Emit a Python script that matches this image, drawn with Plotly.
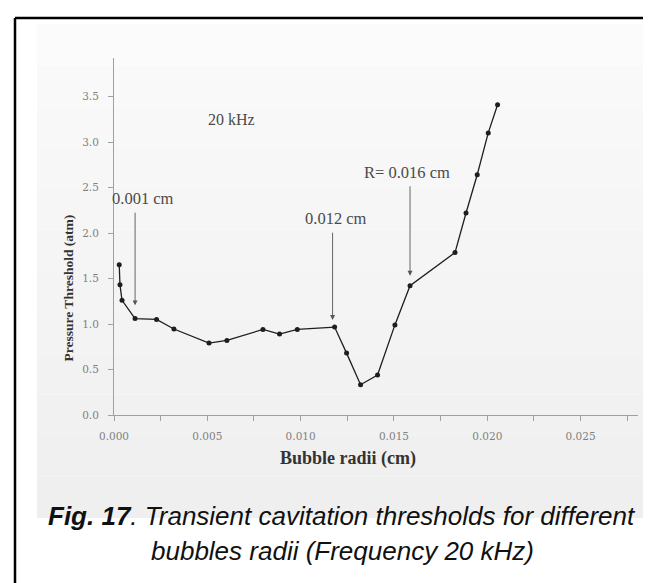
import plotly.graph_objects as go

# ---- data ----
radius_cm = [0.00028, 0.00032, 0.00043, 0.00113, 0.00228, 0.00321, 0.00509, 0.00605,
             0.00798, 0.00887, 0.00982, 0.01182, 0.01246, 0.01321, 0.01412, 0.01505,
             0.01586, 0.01827, 0.01886, 0.01946, 0.02005, 0.02055]
threshold_atm = [1.65, 1.43, 1.26, 1.06, 1.05, 0.945, 0.79, 0.82,
                 0.94, 0.89, 0.94, 0.966, 0.68, 0.333, 0.44, 0.99,
                 1.42, 1.785, 2.22, 2.64, 3.10, 3.41]

# arrow annotations: label, arrow x, tail y, tip y, label x-shift (px)
arrow_labels = ["0.001 cm", "0.012 cm", "R= 0.016 cm"]
arrow_x = [0.00113, 0.01171, 0.01586]
arrow_tail_y = [2.24, 2.02, 2.53]
arrow_tip_y = [1.205, 1.044, 1.53]
label_shift_px = [8, 3, -3]

x_title = "Bubble radii (cm)"
y_title = "Pressure Threshold (atm)"
freq_label = "20 kHz"
caption_line1 = "<b><i>Fig. 17</i></b><i>. Transient cavitation thresholds for different</i>"
caption_line2 = "<i>bubbles radii (Frequency 20 kHz)</i>"

# ---- geometry (pixels) ----
W, H = 651, 583
L, R, T, B = 106, 21, 50, 176
PW, PH = W - L - R, H - T - B


def px(x):
    return (x - L) / PW


def py(y):
    return (H - B - y) / PH


SERIF = "Liberation Serif, Times New Roman, serif"
WSERIF = "DejaVu Serif, serif"
SANS = "Liberation Sans, Arial, sans-serif"

fig = go.Figure()
fig.add_trace(go.Scatter(
    x=radius_cm, y=threshold_atm, mode="lines+markers",
    line=dict(color="#1e1e1e", width=1.3),
    marker=dict(color="#1e1e1e", size=5, symbol="circle"),
    showlegend=False, hoverinfo="skip"))

shapes = []
# scanned-page background, light grey gradient bands
n_bands = 12
top_y, bot_y = 16, 510
for i in range(n_bands):
    y0 = top_y + (bot_y - top_y) * i / n_bands
    y1 = top_y + (bot_y - top_y) * (i + 1) / n_bands
    g = int(251 - 12 * i / (n_bands - 1))
    shapes.append(dict(type="rect", xref="paper", yref="paper",
                       x0=px(29), x1=px(636), y0=py(y1), y1=py(y0),
                       line=dict(width=0), fillcolor=f"rgb({g},{g},{g})", layer="below"))
# outer frame (left and top edges visible)
shapes.append(dict(type="line", xref="paper", yref="paper",
                   x0=px(7), x1=px(7), y0=py(10), y1=py(600),
                   line=dict(color="black", width=2.5)))
shapes.append(dict(type="line", xref="paper", yref="paper",
                   x0=px(7), x1=px(660), y0=py(10), y1=py(10),
                   line=dict(color="black", width=2.5)))

annotations = []
for lab, xa, yt, yh, sh in zip(arrow_labels, arrow_x, arrow_tail_y, arrow_tip_y, label_shift_px):
    annotations.append(dict(x=xa, y=yh, ax=xa, ay=yt, xref="x", yref="y",
                            axref="x", ayref="y", text="", showarrow=True,
                            arrowhead=2, arrowsize=1.1, arrowwidth=0.9,
                            arrowcolor="#555555"))
    annotations.append(dict(x=xa, y=yt, xref="x", yref="y", text=lab,
                            showarrow=False, yanchor="bottom", yshift=1, xshift=sh,
                            font=dict(family=SERIF, size=16.5, color="#4a4a4a")))

annotations.append(dict(x=px(198), y=py(101), xref="paper", yref="paper",
                        text=freq_label, showarrow=False,
                        font=dict(family=SERIF, size=16, color="#4a4a4a")))
annotations.append(dict(x=px(340), y=py(463), xref="paper", yref="paper",
                        text=f"<b>{x_title}</b>", showarrow=False,
                        font=dict(family=SERIF, size=18, color="#333333")))
annotations.append(dict(x=px(50), y=py(280), xref="paper", yref="paper",
                        text=f"<b>{y_title}</b>", showarrow=False, textangle=-90,
                        font=dict(family=SERIF, size=13.5, color="#333333")))
annotations.append(dict(x=px(334), y=py(525), xref="paper", yref="paper",
                        text=caption_line1, showarrow=False,
                        font=dict(family=SANS, size=26, color="#111111")))
annotations.append(dict(x=px(334), y=py(560), xref="paper", yref="paper",
                        text=caption_line2, showarrow=False,
                        font=dict(family=SANS, size=26, color="#111111")))

axis_common = dict(showline=True, linecolor="#a0a0a0", linewidth=1,
                   ticks="outside", ticklen=5, tickcolor="#a0a0a0", tickwidth=1,
                   showgrid=False, zeroline=False,
                   tickfont=dict(family=WSERIF, size=10.5, color="#808080"))

fig.update_layout(
    width=W, height=H,
    margin=dict(l=L, r=R, t=T, b=B, autoexpand=False),
    paper_bgcolor="white", plot_bgcolor="rgba(0,0,0,0)",
    shapes=shapes, annotations=annotations,
    xaxis=dict(range=[0, PW / 18665], tickmode="linear", tick0=0, dtick=0.005,
               tickformat=".3f", ticklabelstandoff=6,
               minor=dict(dtick=0.0025, ticks="outside", ticklen=5,
                          tickcolor="#a0a0a0"),
               **axis_common),
    yaxis=dict(range=[0, PH / 91], tickmode="linear", tick0=0, dtick=0.5,
               tickformat=".1f", ticklabelstandoff=7, **axis_common),
)

fig.write_html("out.html")
